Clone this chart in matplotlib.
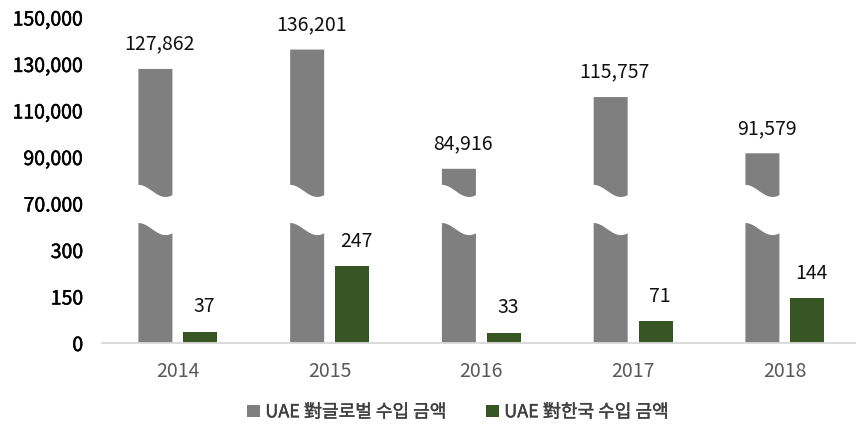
import numpy as np
import matplotlib
matplotlib.use("Agg")
import matplotlib.pyplot as plt
import matplotlib.patheffects as pe
from matplotlib.patches import Patch, Polygon

plt.rcParams["font.family"] = ["Noto Sans CJK KR", "DejaVu Sans"]

years = ["2014", "2015", "2016", "2017", "2018"]
global_imports = [127862, 136201, 84916, 115757, 91579]
korea_imports = [37, 247, 33, 71, 144]
lower_ticks = [0, 150, 300]
upper_ticks = [70000, 90000, 110000, 130000, 150000]
tick_labels = ["0", "150", "300", "70.000", "90,000", "110,000", "130,000", "150,000"]
series_names = ["UAE 對글로벌 수입 금액", "UAE 對한국 수입 금액"]

GRAY = "#7F7F7F"
GREEN = "#375623"
LOWER_STEP = 150
UPPER_BASE = 70000
UPPER_STEP = 20000


def to_axis(v):
    # broken scale: 0-300 fills the first slots, 70,000-150,000 the rest
    if v <= lower_ticks[-1]:
        return v / LOWER_STEP
    return len(lower_ticks) + (v - UPPER_BASE) / UPPER_STEP


def wave(x0, x1, level, n=40):
    t = np.linspace(0, 1, n)
    return x0 + (x1 - x0) * t, level + 0.13 * np.cos(1.25 * np.pi * t)


fig = plt.figure(figsize=(8.56, 4.34), dpi=100)
ax = fig.add_axes([102 / 856, 91 / 434, 754 / 856, 339.5 / 434])

x = np.arange(len(years))
width = 0.224
offset = 0.148

for xi, v in zip(x, global_imports):
    x0, x1 = xi - offset - width / 2, xi - offset + width / 2
    # lower stub with wavy top
    wx, wy = wave(x0, x1, 2.45)
    pts = [(x0, 0), (x1, 0)] + list(zip(wx[::-1], wy[::-1]))
    ax.add_patch(Polygon(pts, closed=True, facecolor=GRAY, edgecolor="none"))
    # upper part with wavy bottom
    wx, wy = wave(x0, x1, 3.27)
    top = to_axis(v)
    pts = list(zip(wx, wy)) + [(x1, top), (x0, top)]
    ax.add_patch(Polygon(pts, closed=True, facecolor=GRAY, edgecolor="none"))
    ax.annotate(f"{v:,}", (xi - offset, top), xytext=(3, 14),
                textcoords="offset points", ha="center", va="baseline",
                fontsize=14, color="#111111")

korea_pos = [to_axis(v) for v in korea_imports]
ax.bar(x + offset, korea_pos, width, color=GREEN)
for xi, v, h in zip(x, korea_imports, korea_pos):
    ax.annotate(f"{v:,}", (xi + offset, h), xytext=(3, 14),
                textcoords="offset points", ha="center", va="baseline",
                fontsize=14, color="#111111")

ax.set_xlim(-0.5, -0.5 + 754 / 151.75)
ax.set_ylim(0, 7.3)
ax.set_yticks([to_axis(v) for v in lower_ticks + upper_ticks])
ax.set_yticklabels(tick_labels)
ax.set_xticks(x)
ax.set_xticklabels(years)
ax.tick_params(axis="y", length=0, pad=13.5, labelsize=14, labelcolor="#000000")
ax.tick_params(axis="x", length=0, pad=13, labelsize=14, labelcolor="#595959")
# tick labels in the source are drawn a touch heavier than the value labels
for lab in ax.get_yticklabels():
    lab.set_path_effects([pe.withStroke(linewidth=0.35, foreground="#000000")])

for side in ["top", "right", "left"]:
    ax.spines[side].set_visible(False)
ax.spines["bottom"].set_color("#D9D9D9")
ax.spines["bottom"].set_linewidth(1.3)

handles = [Patch(facecolor=GRAY), Patch(facecolor=GREEN)]
leg = fig.legend(handles, series_names, loc="center", bbox_to_anchor=(0.535, 0.05),
                 ncol=2, frameon=False, fontsize=13, labelcolor="#404040",
                 handlelength=0.7, handleheight=0.7, handletextpad=0.3,
                 columnspacing=2.2)
for t in leg.get_texts():
    t.set_path_effects([pe.withStroke(linewidth=0.3, foreground="#404040")])

fig.savefig("out.png", dpi=100)
